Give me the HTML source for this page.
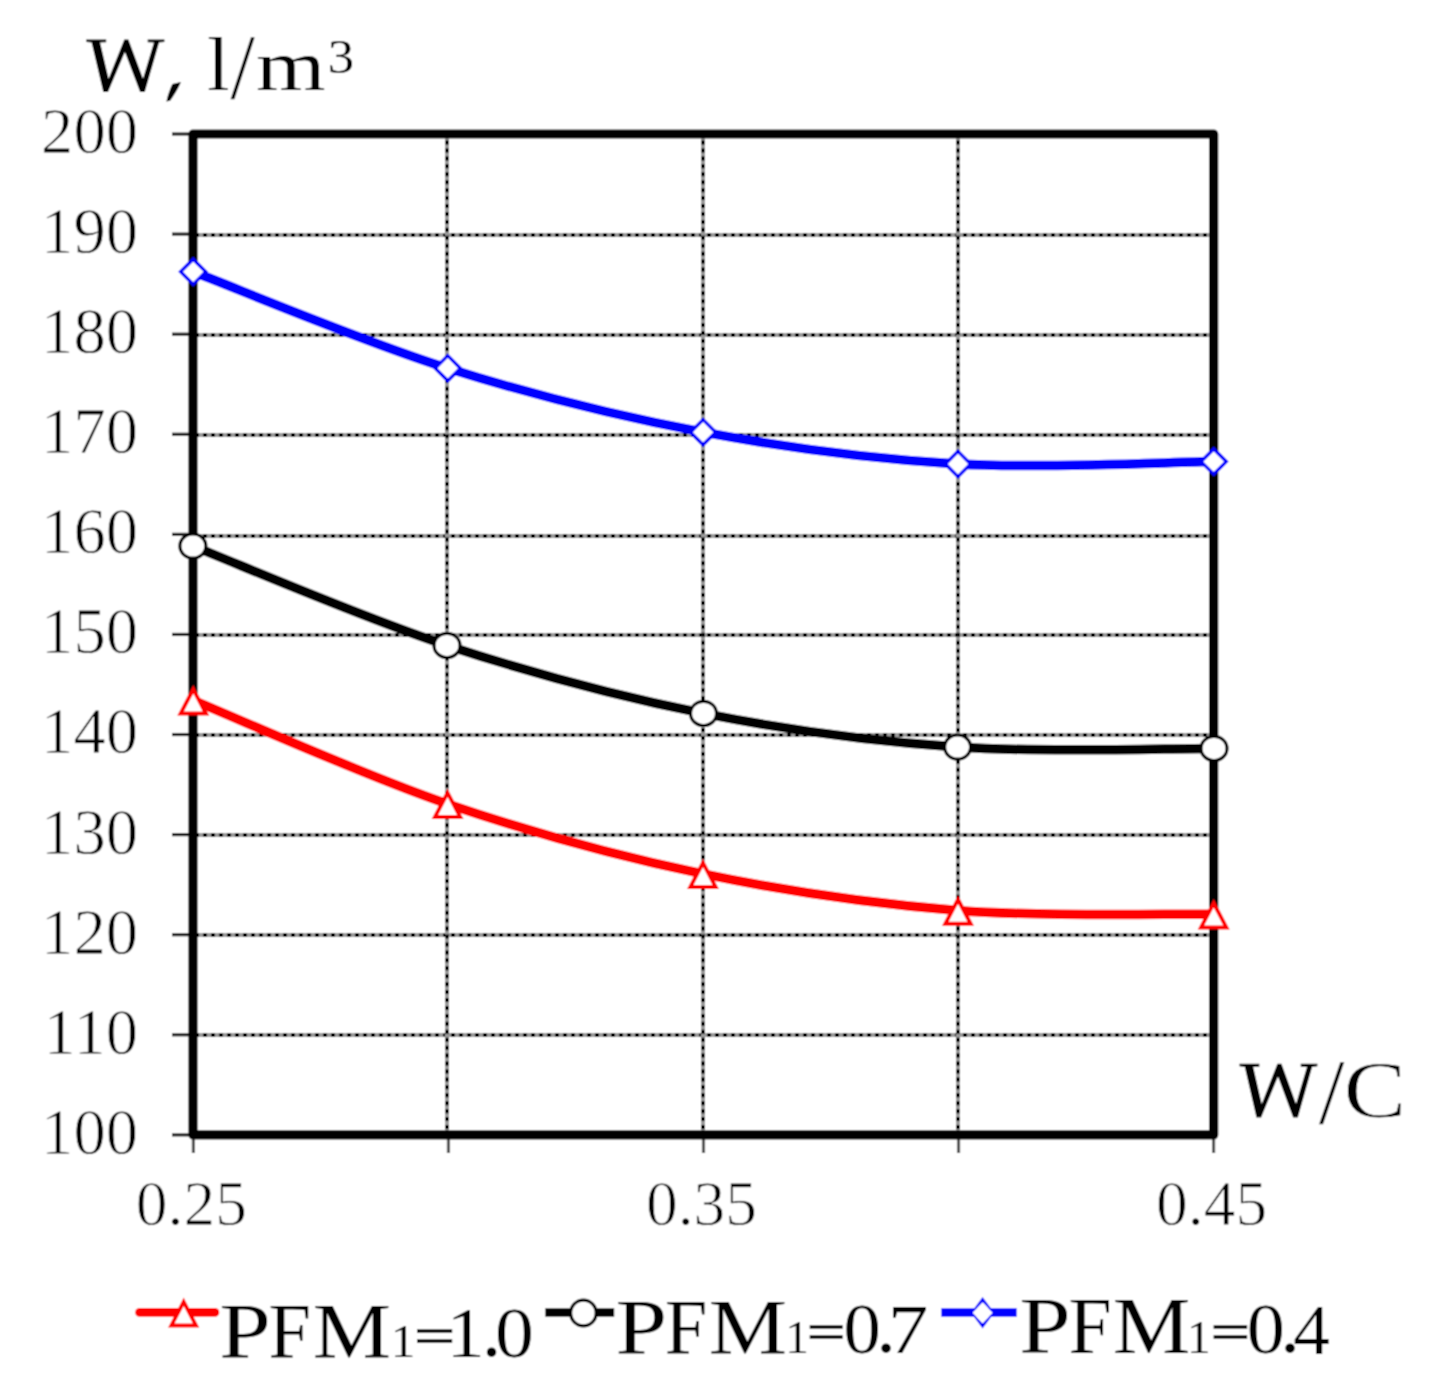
<!DOCTYPE html>
<html><head><meta charset="utf-8"><title>W vs W/C chart</title>
<style>
html,body{margin:0;padding:0;background:#fff;}
svg{display:block;}
text{font-family:"Liberation Serif",serif;}
.lb{stroke:#fff;stroke-width:0.8px;}
</style></head>
<body>
<svg width="1437" height="1397" viewBox="0 0 1437 1397">
<defs><filter id="bl" x="0" y="0" width="1437" height="1397" filterUnits="userSpaceOnUse"><feConvolveMatrix order="3" kernelMatrix="1 2 1 2 4 2 1 2 1" divisor="16" edgeMode="duplicate" preserveAlpha="false"/></filter></defs>
<g filter="url(#bl)">
<rect width="1437" height="1397" fill="#fff"/>
<line x1="193" y1="1035" x2="1213" y2="1035" stroke="#999" stroke-width="4"/>
<line x1="193" y1="1035" x2="1213" y2="1035" stroke="#000" stroke-width="4" stroke-dasharray="4 4" stroke-dashoffset="6"/>
<line x1="193" y1="935" x2="1213" y2="935" stroke="#999" stroke-width="4"/>
<line x1="193" y1="935" x2="1213" y2="935" stroke="#000" stroke-width="4" stroke-dasharray="4 4" stroke-dashoffset="6"/>
<line x1="193" y1="835" x2="1213" y2="835" stroke="#999" stroke-width="4"/>
<line x1="193" y1="835" x2="1213" y2="835" stroke="#000" stroke-width="4" stroke-dasharray="4 4" stroke-dashoffset="6"/>
<line x1="193" y1="735" x2="1213" y2="735" stroke="#999" stroke-width="4"/>
<line x1="193" y1="735" x2="1213" y2="735" stroke="#000" stroke-width="4" stroke-dasharray="4 4" stroke-dashoffset="6"/>
<line x1="193" y1="635" x2="1213" y2="635" stroke="#999" stroke-width="4"/>
<line x1="193" y1="635" x2="1213" y2="635" stroke="#000" stroke-width="4" stroke-dasharray="4 4" stroke-dashoffset="6"/>
<line x1="193" y1="536" x2="1213" y2="536" stroke="#999" stroke-width="4"/>
<line x1="193" y1="536" x2="1213" y2="536" stroke="#000" stroke-width="4" stroke-dasharray="4 4" stroke-dashoffset="6"/>
<line x1="193" y1="435" x2="1213" y2="435" stroke="#999" stroke-width="4"/>
<line x1="193" y1="435" x2="1213" y2="435" stroke="#000" stroke-width="4" stroke-dasharray="4 4" stroke-dashoffset="6"/>
<line x1="193" y1="335" x2="1213" y2="335" stroke="#999" stroke-width="4"/>
<line x1="193" y1="335" x2="1213" y2="335" stroke="#000" stroke-width="4" stroke-dasharray="4 4" stroke-dashoffset="6"/>
<line x1="193" y1="235" x2="1213" y2="235" stroke="#999" stroke-width="4"/>
<line x1="193" y1="235" x2="1213" y2="235" stroke="#000" stroke-width="4" stroke-dasharray="4 4" stroke-dashoffset="6"/>
<line x1="447" y1="1135" x2="447" y2="134" stroke="#999" stroke-width="4"/>
<line x1="447" y1="1135" x2="447" y2="134" stroke="#000" stroke-width="4" stroke-dasharray="4 3.94" stroke-dashoffset="2"/>
<line x1="703" y1="1135" x2="703" y2="134" stroke="#999" stroke-width="4"/>
<line x1="703" y1="1135" x2="703" y2="134" stroke="#000" stroke-width="4" stroke-dasharray="4 3.94" stroke-dashoffset="2"/>
<line x1="958" y1="1135" x2="958" y2="134" stroke="#999" stroke-width="4"/>
<line x1="958" y1="1135" x2="958" y2="134" stroke="#000" stroke-width="4" stroke-dasharray="4 3.94" stroke-dashoffset="2"/>
<line x1="172" y1="1134.90" x2="193.4" y2="1134.90" stroke="#222" stroke-width="3.2"/>
<line x1="172" y1="1034.81" x2="193.4" y2="1034.81" stroke="#222" stroke-width="3.2"/>
<line x1="172" y1="934.72" x2="193.4" y2="934.72" stroke="#222" stroke-width="3.2"/>
<line x1="172" y1="834.63" x2="193.4" y2="834.63" stroke="#222" stroke-width="3.2"/>
<line x1="172" y1="734.54" x2="193.4" y2="734.54" stroke="#222" stroke-width="3.2"/>
<line x1="172" y1="634.45" x2="193.4" y2="634.45" stroke="#222" stroke-width="3.2"/>
<line x1="172" y1="534.36" x2="193.4" y2="534.36" stroke="#222" stroke-width="3.2"/>
<line x1="172" y1="434.27" x2="193.4" y2="434.27" stroke="#222" stroke-width="3.2"/>
<line x1="172" y1="334.18" x2="193.4" y2="334.18" stroke="#222" stroke-width="3.2"/>
<line x1="172" y1="234.09" x2="193.4" y2="234.09" stroke="#222" stroke-width="3.2"/>
<line x1="172" y1="134.00" x2="193.4" y2="134.00" stroke="#222" stroke-width="3.2"/>
<line x1="193.40" y1="1134.9" x2="193.40" y2="1153" stroke="#555" stroke-width="3.2"/>
<line x1="448.45" y1="1134.9" x2="448.45" y2="1153" stroke="#555" stroke-width="3.2"/>
<line x1="703.50" y1="1134.9" x2="703.50" y2="1153" stroke="#555" stroke-width="3.2"/>
<line x1="958.55" y1="1134.9" x2="958.55" y2="1153" stroke="#555" stroke-width="3.2"/>
<line x1="1213.60" y1="1134.9" x2="1213.60" y2="1153" stroke="#555" stroke-width="3.2"/>
<rect x="193.0" y="134.0" width="1020.70" height="1000.90" fill="none" stroke="#000" stroke-width="9.2" stroke-linejoin="round"/>
<path d="M193.20,271.80 C235.63,287.87 362.82,341.47 447.80,368.20 C532.78,394.93 618.07,416.23 703.10,432.20 C788.13,448.17 872.90,459.10 958.00,464.00 C1043.10,468.90 1171.08,462.00 1213.70,461.60" fill="none" stroke="#00f" stroke-width="9.5" stroke-linecap="round"/>
<path d="M192.90,546.10 C235.25,562.65 361.90,617.52 447.00,645.40 C532.10,673.28 618.40,696.45 703.50,713.40 C788.60,730.35 872.52,741.27 957.60,747.10 C1042.68,752.93 1171.27,748.18 1214.00,748.40" fill="none" stroke="#000" stroke-width="9.5" stroke-linecap="round"/>
<path d="M193.30,700.30 C235.68,717.57 362.65,774.97 447.60,803.90 C532.55,832.83 617.93,856.13 703.00,873.90 C788.07,891.67 872.88,903.78 958.00,910.50 C1043.12,917.22 1171.08,913.58 1213.70,914.20" fill="none" stroke="#f00" stroke-width="9.5" stroke-linecap="round"/>
<path d="M193.20,259.20 L205.80,271.80 L193.20,284.40 L180.60,271.80 Z" fill="#fff" stroke="#00f" stroke-width="3.4" stroke-linejoin="miter"/>
<path d="M447.80,355.60 L460.40,368.20 L447.80,380.80 L435.20,368.20 Z" fill="#fff" stroke="#00f" stroke-width="3.4" stroke-linejoin="miter"/>
<path d="M703.10,419.60 L715.70,432.20 L703.10,444.80 L690.50,432.20 Z" fill="#fff" stroke="#00f" stroke-width="3.4" stroke-linejoin="miter"/>
<path d="M958.00,451.40 L970.60,464.00 L958.00,476.60 L945.40,464.00 Z" fill="#fff" stroke="#00f" stroke-width="3.4" stroke-linejoin="miter"/>
<path d="M1213.70,449.00 L1226.30,461.60 L1213.70,474.20 L1201.10,461.60 Z" fill="#fff" stroke="#00f" stroke-width="3.4" stroke-linejoin="miter"/>
<ellipse cx="192.90" cy="546.10" rx="13.0" ry="12.1" fill="#fff" stroke="#000" stroke-width="3.2"/>
<ellipse cx="447.00" cy="645.40" rx="13.0" ry="12.1" fill="#fff" stroke="#000" stroke-width="3.2"/>
<ellipse cx="703.50" cy="713.40" rx="13.0" ry="12.1" fill="#fff" stroke="#000" stroke-width="3.2"/>
<ellipse cx="957.60" cy="747.10" rx="13.0" ry="12.1" fill="#fff" stroke="#000" stroke-width="3.2"/>
<ellipse cx="1214.00" cy="748.40" rx="13.0" ry="12.1" fill="#fff" stroke="#000" stroke-width="3.2"/>
<path d="M193.30,689.31 L205.99,713.50 L180.61,713.50 Z" fill="#fff" stroke="#f00" stroke-width="4.0" stroke-linejoin="miter" stroke-miterlimit="10"/>
<path d="M447.60,792.91 L460.29,817.10 L434.91,817.10 Z" fill="#fff" stroke="#f00" stroke-width="4.0" stroke-linejoin="miter" stroke-miterlimit="10"/>
<path d="M703.00,862.91 L715.69,887.10 L690.31,887.10 Z" fill="#fff" stroke="#f00" stroke-width="4.0" stroke-linejoin="miter" stroke-miterlimit="10"/>
<path d="M958.00,899.51 L970.69,923.70 L945.31,923.70 Z" fill="#fff" stroke="#f00" stroke-width="4.0" stroke-linejoin="miter" stroke-miterlimit="10"/>
<path d="M1213.70,903.21 L1226.39,927.40 L1201.01,927.40 Z" fill="#fff" stroke="#f00" stroke-width="4.0" stroke-linejoin="miter" stroke-miterlimit="10"/>
<g fill="#000">
<text class="lb" x="138.0" y="1153.80" text-anchor="end" font-size="64.6">100</text>
<text class="lb" x="138.0" y="1053.71" text-anchor="end" font-size="64.6">110</text>
<text class="lb" x="138.0" y="953.62" text-anchor="end" font-size="64.6">120</text>
<text class="lb" x="138.0" y="853.53" text-anchor="end" font-size="64.6">130</text>
<text class="lb" x="138.0" y="753.44" text-anchor="end" font-size="64.6">140</text>
<text class="lb" x="138.0" y="653.35" text-anchor="end" font-size="64.6">150</text>
<text class="lb" x="138.0" y="553.26" text-anchor="end" font-size="64.6">160</text>
<text class="lb" x="138.0" y="453.17" text-anchor="end" font-size="64.6">170</text>
<text class="lb" x="138.0" y="353.08" text-anchor="end" font-size="64.6">180</text>
<text class="lb" x="138.0" y="252.99" text-anchor="end" font-size="64.6">190</text>
<text class="lb" x="138.0" y="152.90" text-anchor="end" font-size="64.6">200</text>
<text class="lb" x="191.40" y="1225.3" text-anchor="middle" font-size="63.5">0.25</text>
<text class="lb" x="701.50" y="1225.3" text-anchor="middle" font-size="63.5">0.35</text>
<text class="lb" x="1211.60" y="1225.3" text-anchor="middle" font-size="63.5">0.45</text>
<path d="M86.3,39.4 L106.2,39.4 L106.2,42.3 L100.1,42.6 L108.6,78.8 L124.3,39.4 L128.4,39.4 L143,78.8 L153.9,42.6 L147.7,42.3 L147.7,39.4 L164.4,39.4 L164.4,42 L159.1,42.6 L144.8,92 L140.1,92 L124.9,52 L108,92 L103.3,92 L91.6,42.6 L86.3,42 Z" fill="#000"/>
<path d="M172.3,84.0 L180.8,81.9 C179.5,86 176,92 170.2,100.8 L166.4,101.6 C167.5,96 169.5,90 172.3,84.0 Z" fill="#000"/>
<text transform="translate(207.31 90.10) scale(0.7948 0.7682)" font-size="100" fill="#000">l</text>
<text transform="translate(230.20 98.08) scale(0.8926 0.9388)" font-size="100" fill="#000" stroke="#fff" stroke-width="0.6">/</text>
<text transform="translate(256.12 90.10) scale(0.8945 0.7152)" font-size="100" fill="#000">m</text>
<text transform="translate(327.67 73.02) scale(0.5277 0.4927)" font-size="100" fill="#000">3</text>
<path transform="translate(1153.421 1023.401) scale(0.9974 1.0228)" d="M86.3,39.4 L106.2,39.4 L106.2,42.3 L100.1,42.6 L108.6,78.8 L124.3,39.4 L128.4,39.4 L143,78.8 L153.9,42.6 L147.7,42.3 L147.7,39.4 L164.4,39.4 L164.4,42 L159.1,42.6 L144.8,92 L140.1,92 L124.9,52 L108,92 L103.3,92 L91.6,42.6 L86.3,42 Z" fill="#000"/>
<text transform="translate(1318.80 1123.29) scale(0.9286 0.9358)" font-size="100" fill="#000" stroke="#fff" stroke-width="0.6">/</text>
<text transform="translate(1343.44 1116.51) scale(0.9408 0.8097)" font-size="100" fill="#000" stroke="#fff" stroke-width="1.0">C</text>
</g>
<line x1="139.5" y1="1312.4" x2="215" y2="1312.4" stroke="#f00" stroke-width="8.6" stroke-linecap="round"/>
<path d="M183.70,1301.82 L196.00,1325.40 L171.40,1325.40 Z" fill="#fff" stroke="#f00" stroke-width="4.0" stroke-linejoin="miter" stroke-miterlimit="10"/>
<line x1="545.3" y1="1312.5" x2="614.2" y2="1312.5" stroke="#000" stroke-width="8.6"/>
<ellipse cx="583.40" cy="1313.00" rx="12.8" ry="12.9" fill="#fff" stroke="#000" stroke-width="3.2"/>
<line x1="941.3" y1="1312.5" x2="1016.7" y2="1312.5" stroke="#00f" stroke-width="8.6"/>
<path d="M982.6,1297.1 L994.3000000000001,1312.8 L982.6,1328.5 L970.9,1312.8 Z M982.6,1302.3999999999999 L972.6,1312.8 L982.6,1323.2 L992.6,1312.8 Z" fill="#00f" fill-rule="evenodd"/>
<path d="M982.6,1302.3999999999999 L972.6,1312.8 L982.6,1323.2 L992.6,1312.8 Z" fill="#fff"/>
<text transform="translate(219.33 1356.80) scale(0.9276 0.7865)" font-size="100" fill="#000">P</text>
<text transform="translate(268.50 1356.80) scale(0.7634 0.7865)" font-size="100" fill="#000">F</text>
<text transform="translate(312.67 1356.80) scale(0.8796 0.7865)" font-size="100" fill="#000">M</text>
<text transform="translate(390.68 1356.80) scale(0.4914 0.4726)" font-size="100" fill="#000">1</text>
<path d="M417,1329.2h35.2v3.6h-35.2zM417,1339.2h35.2v3.6h-35.2z" fill="#000"/>
<text transform="translate(446.83 1356.80) scale(0.7584 0.7089)" font-size="100" fill="#000">1</text>
<text transform="translate(481.60 1355.86) scale(0.8040 0.8040)" font-size="100" fill="#000">.</text>
<text transform="translate(495.04 1356.71) scale(0.7763 0.7098)" font-size="100" fill="#000">0</text>
<text transform="translate(615.53 1353.00) scale(0.9276 0.7865)" font-size="100" fill="#000">P</text>
<text transform="translate(664.70 1353.00) scale(0.7634 0.7865)" font-size="100" fill="#000">F</text>
<text transform="translate(708.87 1353.00) scale(0.8796 0.7865)" font-size="100" fill="#000">M</text>
<text transform="translate(785.33 1352.90) scale(0.4744 0.4726)" font-size="100" fill="#000">1</text>
<path d="M809.7,1325.2h33v3.6h-33zM809.7,1335.2h33v3.6h-33z" fill="#000"/>
<text transform="translate(843.45 1353.31) scale(0.7479 0.7098)" font-size="100" fill="#000">0</text>
<text transform="translate(876.00 1352.36) scale(0.8040 0.8040)" font-size="100" fill="#000">.</text>
<text transform="translate(887.65 1352.90) scale(0.8118 0.6964)" font-size="100" fill="#000">7</text>
<text transform="translate(1019.23 1353.30) scale(0.9255 0.7942)" font-size="100" fill="#000">P</text>
<text transform="translate(1068.56 1353.30) scale(0.7777 0.7942)" font-size="100" fill="#000">F</text>
<text transform="translate(1112.78 1353.30) scale(0.8748 0.7942)" font-size="100" fill="#000">M</text>
<text transform="translate(1186.93 1352.90) scale(0.4744 0.4726)" font-size="100" fill="#000">1</text>
<path d="M1213.6,1325.2h33.6v3.6h-33.6zM1213.6,1335.2h33.6v3.6h-33.6z" fill="#000"/>
<text transform="translate(1246.70 1353.31) scale(0.7621 0.7098)" font-size="100" fill="#000">0</text>
<text transform="translate(1279.90 1352.36) scale(0.8040 0.8040)" font-size="100" fill="#000">.</text>
<text transform="translate(1293.27 1353.50) scale(0.7314 0.7110)" font-size="100" fill="#000">4</text>
</g>
</svg>
</body></html>
